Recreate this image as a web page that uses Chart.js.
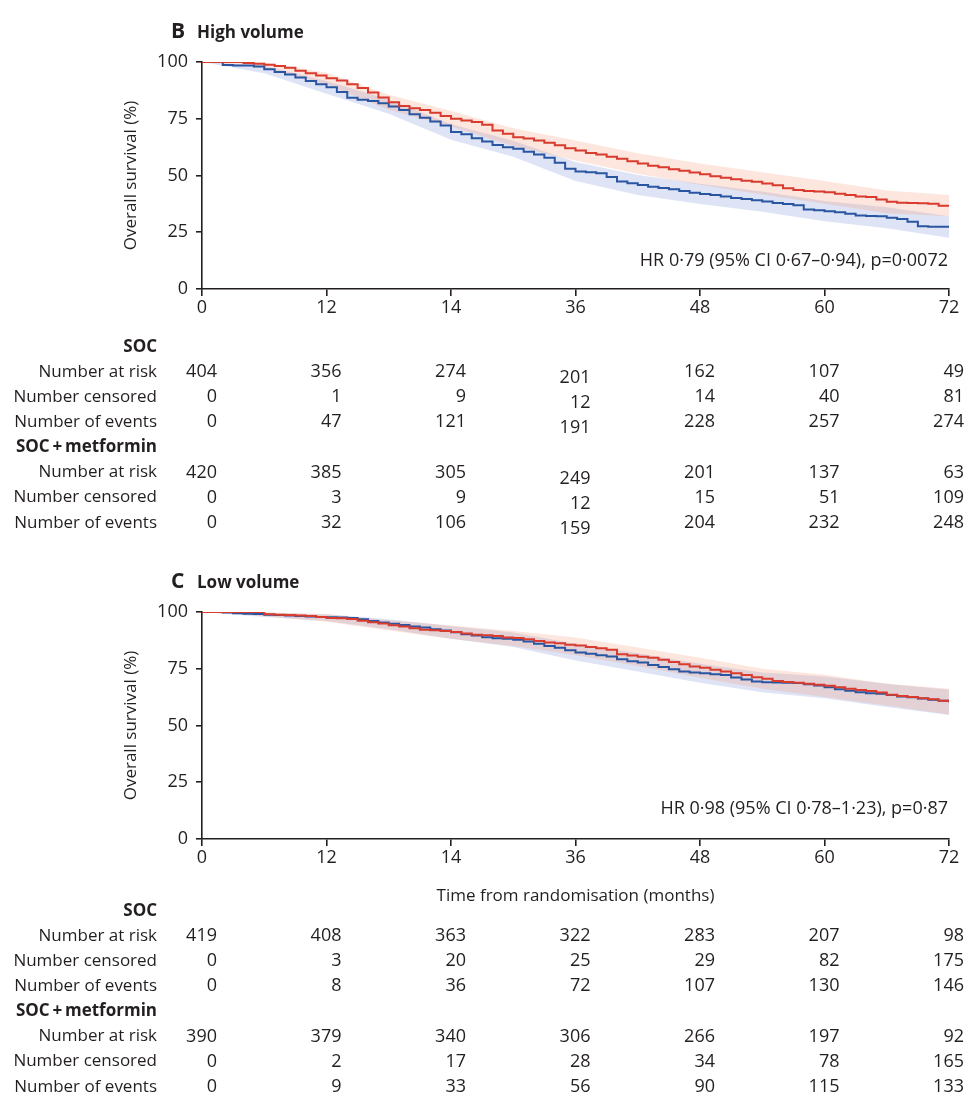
<!DOCTYPE html>
<html><head><meta charset="utf-8">
<script src="https://cdn.jsdelivr.net/npm/chart.js@4.4.1/dist/chart.umd.min.js"></script>
<style>
html,body{margin:0;padding:0;background:#fff;}
#wrap{position:relative;width:976px;height:1108px;overflow:hidden;}
.c{position:absolute;left:0;width:976px;}
</style></head><body>
<div id="wrap">
<div class="c" style="top:0;height:550px"><canvas id="cB" width="976" height="550"></canvas></div>
<div class="c" style="top:550px;height:558px"><canvas id="cC" width="976" height="558"></canvas></div>
</div>
<script>
// ---------- axis ticks ----------
const xTickValues = [0, 12, 24, 36, 48, 60, 72];
const xTickLabels = ['0', '12', '14', '36', '48', '60', '72'];
const yTickValues = [0, 25, 50, 75, 100];

// ---------- time grids (months) ----------
const months = [0,1,2,3,4,5,6,7,8,9,10,11,12,13,14,15,16,17,18,19,20,21,22,23,24,25,26,27,28,29,30,31,32,33,34,35,36,37,38,39,40,41,42,43,44,45,46,47,48,49,50,51,52,53,54,55,56,57,58,59,60,61,62,63,64,65,66,67,68,69,70,71,72];
const ciMonths = [0,6,12,18,24,30,36,42,48,54,60,66,72];

// ---------- B: High volume, overall survival (%) ----------
const hvSOC = [100,100,98.7,98.5,98.5,98,96.8,95.6,94.5,93.2,91.6,90.2,88.9,86.8,84.2,83.4,82.8,81.8,80.4,78.9,77,75.4,73.8,72,69.2,68.2,66.4,65,63.4,62.5,61.8,60.5,59.2,57.8,55.6,53,51.8,51.4,51,49.3,47.4,46.6,45.8,45,44.5,43.9,43.2,42.4,41.9,41.4,40.7,40.1,39.6,39.1,38.5,37.9,37.4,36.9,35,34.7,34.3,33.8,33.1,32.4,32.2,32,31.4,30.8,29.6,27.6,27.4,27.4,27.3];
const hvMet = [100,100,100,100,99.6,99.2,98.8,98.2,97.5,96.2,95,94,92.8,91.8,90.2,88.5,86.6,84.4,82.3,80.6,79.6,78.8,77.6,76.2,75,74.2,73.6,72.4,69.8,68.4,66.9,66.3,65.4,64.4,63.3,62,61,59.9,59.2,58.3,57.4,56.3,55.3,54.3,53.6,52.8,52.1,51.3,50.6,49.7,49,48.3,47.7,47.2,46.5,45.7,44.4,43.6,43.2,42.9,42.6,42,41.4,40.8,40.5,39.4,38.4,38,37.9,37.8,37.6,36.7,36.7];
const hvSOCLow  = [100,95,86,77.2,65.8,58.3,47.6,41.4,37.4,34,29.8,26.8,22.6];
const hvSOCHigh = [100,98.3,91.6,83.5,72.6,65.3,56,50.2,46.4,43,38.8,36,32];
const hvMetLow  = [100,97.6,90.2,79,71.6,63,56.6,50.8,45.9,41.6,37.6,33.4,32];
const hvMetHigh = [100,99.9,95.3,85.6,78.4,70.8,65.4,59.8,55.3,51.4,47.6,43.4,41.4];

// ---------- C: Low volume, overall survival (%) ----------
const lvSOC = [100,100,99.8,99.4,99.2,99.1,98.8,98.7,98.5,98.2,98,97.8,97.7,97.6,97.4,96.8,96,95.4,94.8,94.3,93.6,93.2,92.4,91.8,91.1,90.2,89.6,88.9,88.4,88.2,87.8,87,86,85,84.2,83.2,82.2,81.6,81,80.4,79.2,78.3,77.8,76.6,75.8,74.8,73.8,73.4,73,72.6,72.2,71.2,70.3,69.4,69,68.9,68.8,68.7,68.2,67.6,66.9,66,65.3,64.6,64.2,64,63.4,62.8,62.4,61.9,61.3,60.9,60.2];
const lvMet = [100,100,100,100,100,100,99,98.8,98.7,98.5,98.2,97.8,97.4,97.2,96.9,96.2,95.5,94.9,94.2,93.6,92.8,92.2,92,91.6,91.2,90.5,90,89.8,89.4,88.8,88.6,88,87.2,86.6,86.2,85.6,85.2,84.6,84,83.4,81.4,80.8,80.3,79.8,79,78,77,76,75.4,74.6,73.8,73,72.2,71.3,70.6,69.6,69.2,68.8,68.4,68,67.5,66.8,66.2,65.6,65.2,64.5,63.6,63,62.6,62,61.6,60.9,60.2];
const lvSOCLow  = [100,97.8,96,92.4,88.2,84.6,78.6,73.8,68.8,64.6,62,58.2,54.6];
const lvSOCHigh = [100,99.8,99,96.8,93.8,91,86,81.8,77.2,73.4,71.6,68.4,65.8];
const lvMetLow  = [100,98.1,95.7,91.8,88.2,85,81,76.2,71,66.2,62.6,58.8,54.8];
const lvMetHigh = [100,99.9,99,96.4,94,91.6,88.8,84.4,79.8,75,72.4,68.4,66.2];

// ---------- number-at-risk tables ----------
const rowLabels = ['Number at risk', 'Number censored', 'Number of events'];
const groupLabels = ['SOC', 'SOC\u2009+\u2009metformin'];
const hvSOCRisk = [404,356,274,201,162,107,49];
const hvSOCCens = [0,1,9,12,14,40,81];
const hvSOCEvents = [0,47,121,191,228,257,274];
const hvMetRisk = [420,385,305,249,201,137,63];
const hvMetCens = [0,3,9,12,15,51,109];
const hvMetEvents = [0,32,106,159,204,232,248];
const lvSOCRisk = [419,408,363,322,283,207,98];
const lvSOCCens = [0,3,20,25,29,82,175];
const lvSOCEvents = [0,8,36,72,107,130,146];
const lvMetRisk = [390,379,340,306,266,197,92];
const lvMetCens = [0,2,17,28,34,78,165];
const lvMetEvents = [0,9,33,56,90,115,133];

// ---------- styling ----------
const INK = '#231f20';
const RED = '#d93b2e';
const BLUE = '#2955a1';
const RED_BAND = 'rgba(240,140,100,0.22)';
const BLUE_BAND = 'rgba(90,120,210,0.20)';
const FONT = 'Open Sans';

function pts(xs, ys) { return xs.map((x, i) => ({ x: x, y: ys[i] })); }

function makePanel(canvasId, p) {
  const H = document.getElementById(canvasId).height;
  const xTitleH = p.xTitle ? 67 : 40;
  const panelPlugin = {
    id: 'panel_' + canvasId,
    afterDraw(chart) {
      const ctx = chart.ctx;
      const xs = chart.scales.x;
      ctx.save();
      ctx.fillStyle = INK;
      // panel letter + title
      ctx.textBaseline = 'alphabetic';
      ctx.textAlign = 'left';
      ctx.font = 'bold 21px "' + FONT + '"';
      ctx.fillText(p.letter, 171, 38);
      ctx.font = 'bold 17px "' + FONT + '"';
      ctx.fillText(p.title, 197, 38);
      // HR annotation
      ctx.font = '18px "' + FONT + '"';
      ctx.textAlign = 'right';
      ctx.textBaseline = 'middle';
      ctx.fillText(p.hr, chart.chartArea.right - 1, p.hrY);
      // table
      let y = p.tableTop;
      const step = 25.1;
      p.groups.forEach((g, gi) => {
        ctx.font = 'bold 17px "' + FONT + '"';
        ctx.textAlign = 'right';
        ctx.fillText(groupLabels[gi], 157, y);
        y += step;
        g.forEach((row, ri) => {
          ctx.font = '17px "' + FONT + '"';
          ctx.textAlign = 'right';
          ctx.fillText(rowLabels[ri], 157, y);
          ctx.font = '18px "' + FONT + '"';
          row.forEach((v, ci) => {
            const px = xs.getPixelForValue(xTickValues[ci]) + 15;
            const dy = (p.colShift && p.colShift[ci]) || 0;
            ctx.fillText(String(v), px, y + dy);
          });
          y += step;
        });
      });
      ctx.restore();
    }
  };
  return new Chart(document.getElementById(canvasId), {
    type: 'line',
    data: {
      datasets: [
        { data: pts(ciMonths, p.socHigh), borderWidth: 0, pointRadius: 0, fill: false, order: 10, borderColor: 'rgba(0,0,0,0)' },
        { data: pts(ciMonths, p.socLow), borderWidth: 0, pointRadius: 0, fill: '-1', backgroundColor: BLUE_BAND, order: 10, borderColor: 'rgba(0,0,0,0)' },
        { data: pts(ciMonths, p.metHigh), borderWidth: 0, pointRadius: 0, fill: false, order: 9, borderColor: 'rgba(0,0,0,0)' },
        { data: pts(ciMonths, p.metLow), borderWidth: 0, pointRadius: 0, fill: '-1', backgroundColor: RED_BAND, order: 9, borderColor: 'rgba(0,0,0,0)' },
        { label: 'SOC', data: pts(months, p.soc), borderColor: BLUE, borderWidth: 2, pointRadius: 0, stepped: true, fill: false, order: 1 },
        { label: 'SOC + metformin', data: pts(months, p.met), borderColor: RED, borderWidth: 2, pointRadius: 0, stepped: true, fill: false, order: 0 }
      ]
    },
    options: {
      responsive: false,
      animation: false,
      devicePixelRatio: 1,
      layout: { padding: { top: 62, right: 27, left: 118, bottom: H - 289 - xTitleH } },
      plugins: { legend: { display: false }, tooltip: { enabled: false }, title: { display: false } },
      scales: {
        x: {
          type: 'linear', min: 0, max: 72,
          afterBuildTicks: (s) => { s.ticks = xTickValues.map(v => ({ value: v })); },
          afterFit: (s) => { s.height = xTitleH; },
          ticks: { color: INK, font: { family: FONT, size: 18 }, padding: 1, maxRotation: 0, autoSkip: false,
                   callback: (v) => xTickLabels[xTickValues.indexOf(v)] },
          grid: { display: true, drawOnChartArea: false, drawTicks: true, tickLength: 7, color: INK, lineWidth: 1.6 },
          border: { display: true, color: INK, width: 1.6 },
          title: { display: !!p.xTitle, text: p.xTitle || '', color: INK, font: { family: FONT, size: 17 }, padding: { top: 0, bottom: 0 } }
        },
        y: {
          type: 'linear', min: 0, max: 100,
          afterBuildTicks: (s) => { s.ticks = yTickValues.map(v => ({ value: v })); },
          afterFit: (s) => { s.width = 202 - 118; },
          ticks: { color: INK, font: { family: FONT, size: 18 }, padding: 8 },
          grid: { display: true, drawOnChartArea: false, drawTicks: true, tickLength: 6, color: INK, lineWidth: 1.6 },
          border: { display: true, color: INK, width: 1.6 },
          title: { display: true, text: 'Overall survival (%)', color: INK, font: { family: FONT, size: 17 }, padding: { top: 3, bottom: 3 } }
        }
      }
    },
    plugins: [panelPlugin]
  });
}

makePanel('cB', {
  letter: 'B', title: 'High volume',
  soc: hvSOC, met: hvMet, socLow: hvSOCLow, socHigh: hvSOCHigh, metLow: hvMetLow, metHigh: hvMetHigh,
  hr: 'HR 0\u00b779 (95% CI 0\u00b767\u20130\u00b794), p=0\u00b70072', hrY: 261,
  tableTop: 347,
  colShift: [0, 0, 0, 6, 0, 0, 0],
  groups: [[hvSOCRisk, hvSOCCens, hvSOCEvents], [hvMetRisk, hvMetCens, hvMetEvents]]
});

makePanel('cC', {
  letter: 'C', title: 'Low volume',
  soc: lvSOC, met: lvMet, socLow: lvSOCLow, socHigh: lvSOCHigh, metLow: lvMetLow, metHigh: lvMetHigh,
  hr: 'HR 0\u00b798 (95% CI 0\u00b778\u20131\u00b723), p=0\u00b787', hrY: 259,
  tableTop: 361,
  xTitle: 'Time from randomisation (months)',
  groups: [[lvSOCRisk, lvSOCCens, lvSOCEvents], [lvMetRisk, lvMetCens, lvMetEvents]]
});
</script>
</body></html>
